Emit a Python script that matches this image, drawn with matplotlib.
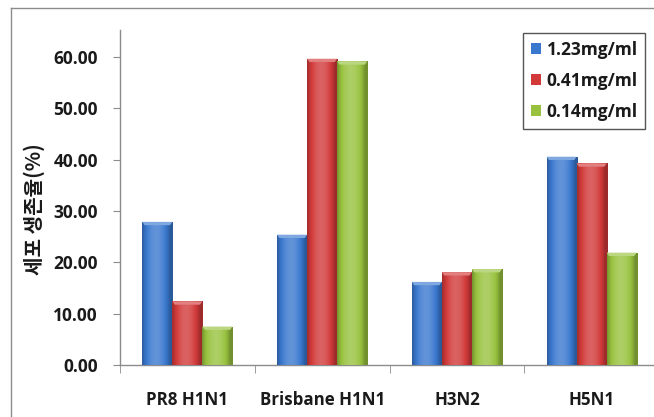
import numpy as np
import matplotlib
matplotlib.use("Agg")
import matplotlib.pyplot as plt
from matplotlib.patches import Polygon, Patch
from matplotlib.lines import Line2D
from matplotlib.colors import to_rgb

categories = ["PR8 H1N1", "Brisbane H1N1", "H3N2", "H5N1"]
series_names = ["1.23mg/ml", "0.41mg/ml", "0.14mg/ml"]
vals_123 = [27.9, 25.4, 16.2, 40.6]
vals_041 = [12.4, 59.7, 18.1, 39.3]
vals_014 = [7.5, 59.2, 18.7, 21.9]
yticks = [0, 10, 20, 30, 40, 50, 60]
ylabel = "세포 생존율(%)"

colors = ["#3a78cf", "#d23a3a", "#98c23e"]

W, H = 654, 417
fig = plt.figure(figsize=(W / 100, H / 100), dpi=100)
ax = fig.add_axes([120 / W, 1 - 365 / H, 539 / W, 335 / H])

latin = "Open Sans"
fs = 12.5

x = np.arange(len(categories))
bw = 0.223
all_vals = [vals_123, vals_041, vals_014]


def shade(c, f):
    r = np.array(to_rgb(c))
    if f >= 0:
        return tuple(r + (1 - r) * f)
    return tuple(r * (1 + f))


profile = np.linspace(0, 1, 64)
bright = -0.25 + 0.45 * np.sin(np.pi * np.clip(profile * 1.1, 0, 1)) ** 0.8

for si, (vals, col) in enumerate(zip(all_vals, colors)):
    bars = ax.bar(x + (si - 1) * bw, vals, width=bw, color=col, zorder=2,
                  linewidth=0)
    grad = np.array([[shade(col, b) for b in bright]])
    for b in bars:
        x0, w, h = b.get_x(), b.get_width(), b.get_height()
        im = ax.imshow(grad, extent=(x0, x0 + w, 0, h), aspect="auto",
                       zorder=3, interpolation="bilinear")
        im.set_clip_path(b)
        dy = 0.65
        dx = w * 0.08
        cap = Polygon([(x0, h), (x0 + w, h), (x0 + w - dx, h - dy),
                       (x0 + dx, h - dy)], closed=True,
                      facecolor=shade(col, 0.35), edgecolor="none", zorder=4)
        ax.add_patch(cap)

ax.set_xlim(-0.5, len(categories) - 0.5)
ax.set_ylim(0, 65.3)

ax.spines["top"].set_visible(False)
ax.spines["right"].set_visible(False)
for s in ("left", "bottom"):
    ax.spines[s].set_color("#8c8c8c")
    ax.spines[s].set_linewidth(1.0)

ax.set_yticks(yticks)
ax.set_yticklabels([f"{v:.2f}" for v in yticks], fontfamily=latin,
                   fontweight="bold", fontsize=fs, color="#1a1a1a")
ax.tick_params(axis="y", direction="out", length=5, color="#8c8c8c", pad=11)

ax.set_xticks(x)
ax.set_xticklabels(categories, fontfamily=latin, fontweight="bold",
                   fontsize=12.2, color="#1a1a1a")
ax.set_xticks(np.arange(-0.5, len(categories), 1.0), minor=True)
ax.tick_params(axis="x", which="major", length=0, pad=19)
ax.tick_params(axis="x", which="minor", direction="out", length=6,
               color="#8c8c8c")

fig.text(34 / W, 1 - 209 / H, ylabel, rotation=90, ha="center", va="center",
         fontfamily=["Noto Sans CJK KR", "DejaVu Sans"], fontweight="bold",
         fontsize=14.5, color="#1a1a1a")

# outer chart-area border (left and top)
fig.add_artist(Line2D([10.5 / W, 10.5 / W], [0, 1 - 7.5 / H],
                      transform=fig.transFigure, color="#8c8c8c", lw=1))
fig.add_artist(Line2D([10.5 / W, 1], [1 - 7.5 / H, 1 - 7.5 / H],
                      transform=fig.transFigure, color="#8c8c8c", lw=1))

handles = [Patch(facecolor=c, edgecolor="none") for c in colors]
leg = fig.legend(handles, series_names, loc="upper left",
                 bbox_to_anchor=(523 / W, 1 - 33 / H),
                 bbox_transform=fig.transFigure,
                 prop={"family": latin, "weight": "bold", "size": fs},
                 handlelength=0.6, handleheight=0.6, handletextpad=0.3,
                 labelspacing=0.75, borderpad=0.45, borderaxespad=0,
                 fancybox=False, framealpha=1, edgecolor="#555555")
leg.get_frame().set_linewidth(1.0)
for t in leg.get_texts():
    t.set_color("#1a1a1a")

fig.savefig("out.png", dpi=100)
